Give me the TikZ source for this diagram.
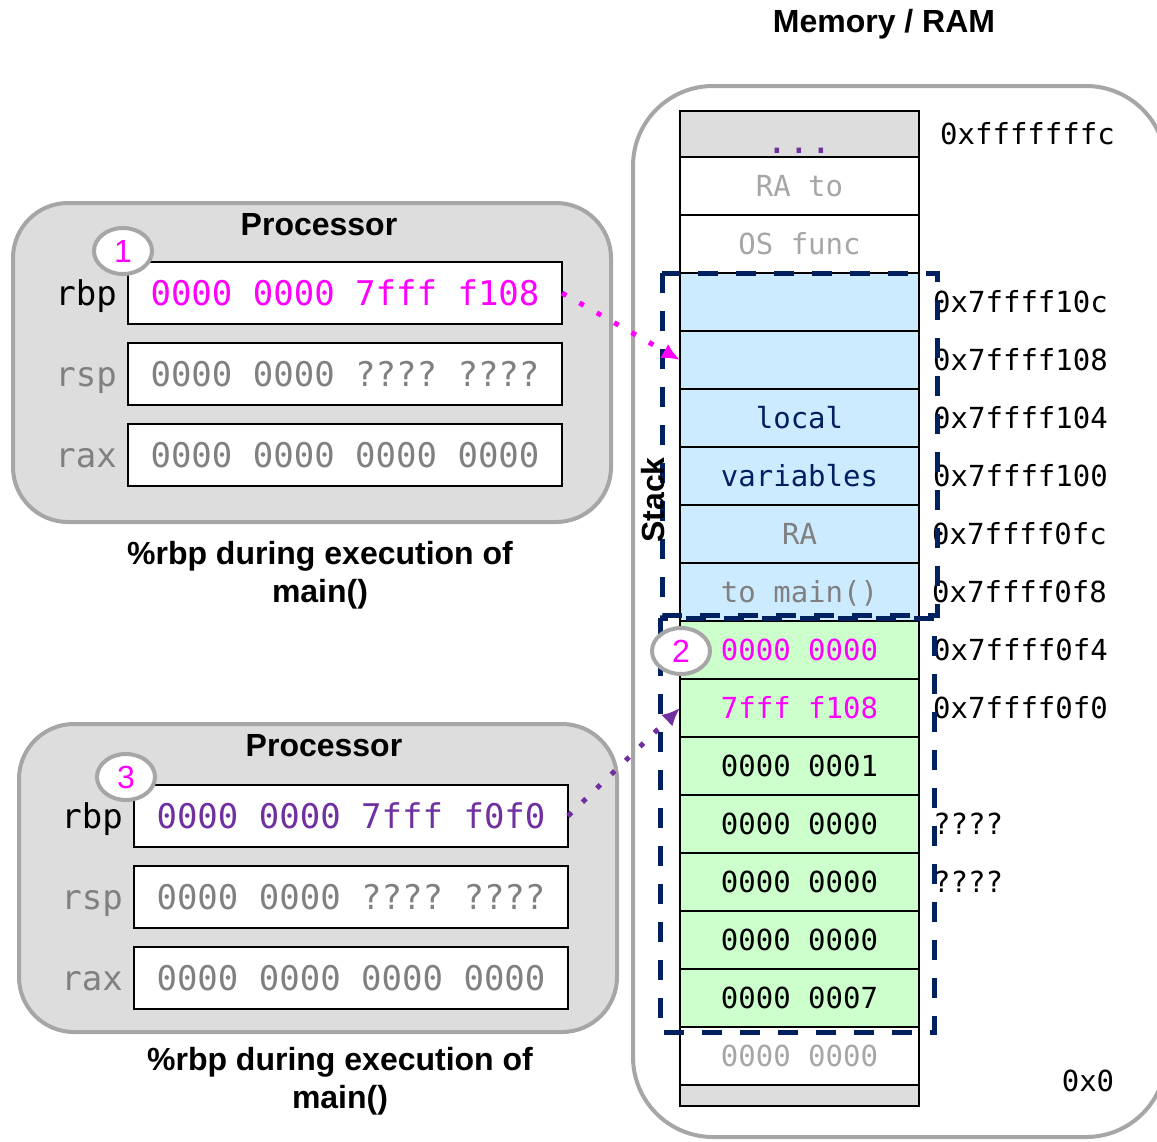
\documentclass[tikz,border=0pt]{standalone}
\usepackage{fontspec}
\setsansfont{Liberation Sans}
\setmonofont{DejaVu Sans Mono}
\usetikzlibrary{arrows.meta,positioning,shapes.geometric}

\definecolor{memmagenta}{HTML}{FF00FF}
\definecolor{rbppurple}{HTML}{7030A0}
\definecolor{navy}{HTML}{002060}
\definecolor{framegray}{HTML}{A6A6A6}
\definecolor{boxgray}{HTML}{DDDDDD}
\definecolor{stackblue}{HTML}{CCEBFF}
\definecolor{stackgreen}{HTML}{CCFFCC}
\definecolor{textgray}{HTML}{808080}
\definecolor{lighttext}{HTML}{A6A6A6}

\newcommand{\cellfont}{\fontsize{29}{29}\selectfont\ttfamily}
\newcommand{\regfont}{\fontsize{34}{34}\selectfont\ttfamily}
\newcommand{\headfont}{\fontsize{32}{38}\selectfont\sffamily\bfseries}

\begin{document}
\begin{tikzpicture}[x=1pt,y=-1pt,>={Latex[length=18pt,width=16pt]},
    panel/.style={draw=framegray,line width=4pt,rounded corners=#1},
    cell/.style={draw,line width=2pt,minimum width=239pt,minimum height=58pt,
      inner sep=0pt,outer sep=0pt,text height=21pt,text depth=0pt,font=\cellfont},
    reg/.style={draw,fill=white,line width=2pt,minimum width=434pt,
      minimum height=62pt,inner sep=0pt,outer sep=0pt,text height=25pt,
      text depth=0pt,font=\regfont},
    regname/.style={inner sep=0pt,text height=25pt,text depth=0pt,font=\regfont},
    addr/.style={inner sep=0pt,text height=21pt,text depth=0pt,font=\cellfont},
    stackbox/.style={draw=navy,line width=5pt,dash pattern=on 20pt off 18pt},
    marker/.style={ellipse,draw=framegray,fill=white,line width=4pt,
      minimum width=58pt,minimum height=46pt,inner sep=0pt,text=memmagenta,
      font=\fontsize{32}{32}\selectfont\sffamily},
    heading/.style={font=\headfont},
    ptr/.style={->,draw=#1,line width=5pt,dash pattern=on 5pt off 15pt}]
  \useasboundingbox (0,0) rectangle (1157,1141);

  % frames
  \draw[panel=80pt,fill=white] (633,86) rectangle (1166,1137);
  \draw[panel=55pt,fill=boxgray] (13,203) rectangle (611,522);
  \draw[panel=55pt,fill=boxgray] (19,724) rectangle (617,1032);
  \node[heading] (ram) at (884,24) {Memory / RAM};

  % memory column, top to bottom
  \node[cell,fill=boxgray,minimum height=46pt] (c0) at (799.5,134)
    {\fontsize{36}{36}\selectfont\raisebox{-9pt}{\textcolor{rbppurple}{...}}};
  \node[cell,text=lighttext,below=0pt of c0] (c1) {RA to};
  \node[cell,text=lighttext,below=0pt of c1] (c2) {OS func};
  \node[cell,fill=stackblue,below=0pt of c2] (c3) {};
  \node[cell,fill=stackblue,below=0pt of c3] (c4) {};
  \node[cell,fill=stackblue,text=navy,below=0pt of c4] (c5) {local};
  \node[cell,fill=stackblue,text=navy,below=0pt of c5] (c6) {variables};
  \node[cell,fill=stackblue,text=textgray,below=0pt of c6] (c7) {RA};
  \node[cell,fill=stackblue,text=textgray,below=0pt of c7] (c8) {to main()};
  \node[cell,fill=stackgreen,text=memmagenta,below=0pt of c8] (c9) {0000 0000};
  \node[cell,fill=stackgreen,text=memmagenta,below=0pt of c9] (c10) {7fff f108};
  \node[cell,fill=stackgreen,below=0pt of c10] (c11) {0000 0001};
  \node[cell,fill=stackgreen,below=0pt of c11] (c12) {0000 0000};
  \node[cell,fill=stackgreen,below=0pt of c12] (c13) {0000 0000};
  \node[cell,fill=stackgreen,below=0pt of c13] (c14) {0000 0000};
  \node[cell,fill=stackgreen,below=0pt of c14] (c15) {0000 0007};
  \node[cell,text=lighttext,below=0pt of c15] (c16) {0000 0000};
  \node[cell,fill=boxgray,minimum height=19pt,below=0pt of c16] (c17) {};

  % addresses
  \node[addr,right=21pt of c0] (a0) {0xfffffffc};
  \node[addr,right=14pt of c3] (a3) {0x7ffff10c};
  \node[addr,right=14pt of c4] (a4) {0x7ffff108};
  \node[addr,right=14pt of c5] (a5) {0x7ffff104};
  \node[addr,right=14pt of c6] (a6) {0x7ffff100};
  \node[addr,right=13pt of c7] (a7) {0x7ffff0fc};
  \node[addr,right=13pt of c8] (a8) {0x7ffff0f8};
  \node[addr,right=14pt of c9] (a9) {0x7ffff0f4};
  \node[addr,right=14pt of c10] (a10) {0x7ffff0f0};
  \node[addr,right=14pt of c12] (a12) {????};
  \node[addr,right=14pt of c13] (a13) {????};
  \node[addr] (a17) at (1088,1081) {0x0};

  % stack frames
  \draw[stackbox] ([xshift=-18pt]c3.north west) rectangle
    ([xshift=18pt,yshift=6pt]c8.south east);
  \draw[stackbox] ([xshift=-20pt,yshift=3pt]c9.north west) rectangle
    ([xshift=15pt,yshift=-5pt]c15.south east);
  \node[heading,rotate=90] (stk) at (653,500) {Stack};

  % processor before the call
  \node[heading] (proc1) at (319,225) {Processor};
  \node[reg,text=memmagenta] (rbp1) at (345,293) {0000 0000 7fff f108};
  \node[reg,text=textgray,below=19pt of rbp1] (rsp1) {0000 0000 ???? ????};
  \node[reg,text=textgray,below=19pt of rsp1] (rax1) {0000 0000 0000 0000};
  \node[regname,left=11pt of rbp1] (n1rbp) {rbp};
  \node[regname,text=textgray,left=11pt of rsp1] (n1rsp) {rsp};
  \node[regname,text=textgray,left=11pt of rax1] (n1rax) {rax};
  \node[heading,align=center] (cap1) at (320,575) {\%rbp during execution of\\main()};

  % processor after the call
  \node[heading] (proc2) at (324,746) {Processor};
  \node[reg,text=rbppurple] (rbp2) at (351,816) {0000 0000 7fff f0f0};
  \node[reg,text=textgray,below=19pt of rbp2] (rsp2) {0000 0000 ???? ????};
  \node[reg,text=textgray,below=19pt of rsp2] (rax2) {0000 0000 0000 0000};
  \node[regname,left=11pt of rbp2] (n2rbp) {rbp};
  \node[regname,text=textgray,left=11pt of rsp2] (n2rsp) {rsp};
  \node[regname,text=textgray,left=11pt of rax2] (n2rax) {rax};
  \node[heading,align=center] (cap2) at (340,1081) {\%rbp during execution of\\main()};

  \draw[ptr=memmagenta] (rbp1.east) -- (c4.west);
  \draw[ptr=rbppurple] (rbp2.east) -- (c10.west);

  \node[marker] (m1) at (123,251) {1};
  \node[marker] (m2) at (681,651) {2};
  \node[marker] (m3) at (126,777) {3};
\end{tikzpicture}
\end{document}
